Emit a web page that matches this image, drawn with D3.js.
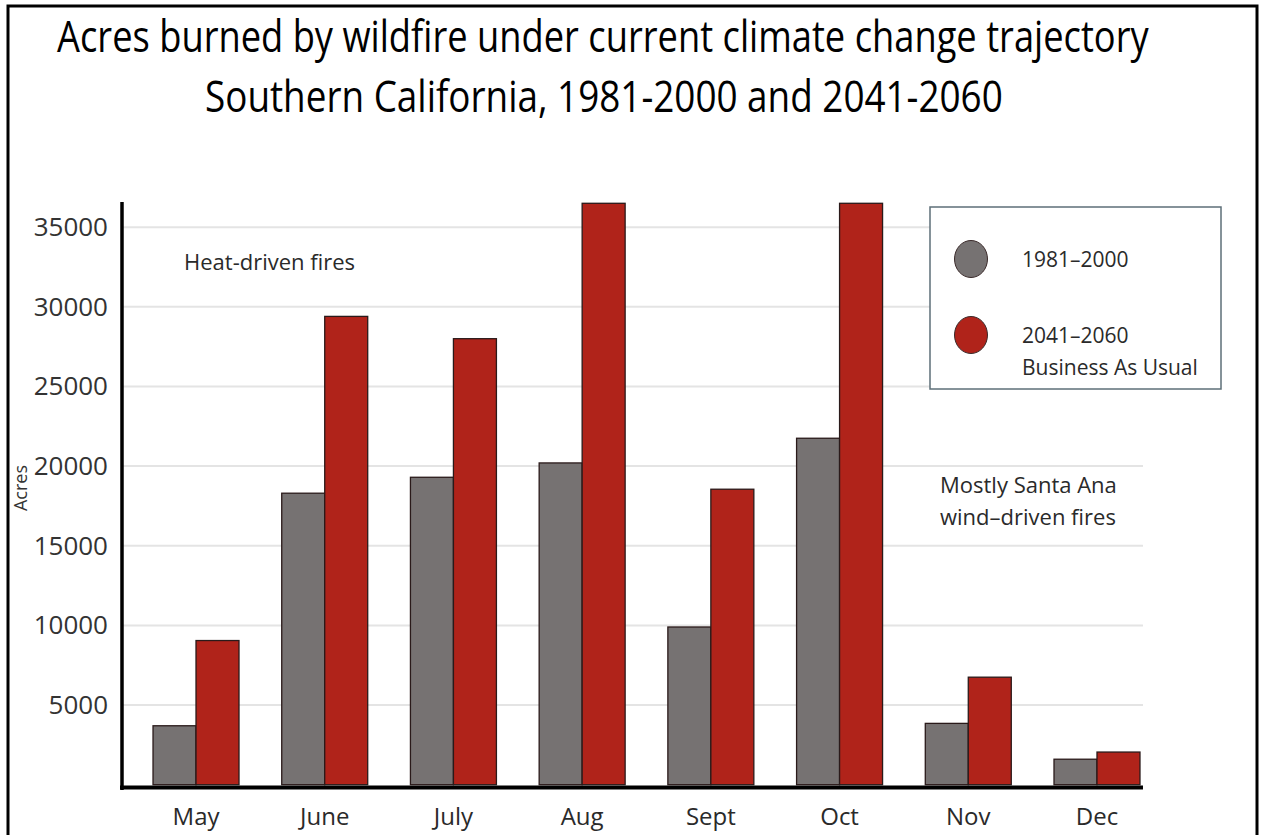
<!DOCTYPE html>
<html>
<head>
<meta charset="utf-8">
<script src="https://cdn.jsdelivr.net/npm/d3@7"></script>
<style>
    html, body { margin: 0; padding: 0; background: #fff; }
    svg { display: block; font-family: "Open Sans", "Noto Sans", sans-serif; }
</style>
</head>
<body>
<div id="chart"></div>
<script>
(function () {
    'use strict';

    // data
    var months = ['May', 'June', 'July', 'Aug', 'Sept', 'Oct', 'Nov', 'Dec'];
    var past = [3700, 18300, 19300, 20200, 9900, 21750, 3850, 1600];       // 1981-2000
    var future = [9050, 29400, 28000, 36500, 18550, 36500, 6750, 2050];    // 2041-2060 BAU
    var yTicks = [5000, 10000, 15000, 20000, 25000, 30000, 35000];
    var seriesKeys = ['past', 'future'];
    var seriesLabels = [['1981\u20132000'], ['2041\u20132060', 'Business As Usual']];
    var seriesColors = ['#767272', '#b0231a'];
    var titleLines = [
        'Acres burned by wildfire under current climate change trajectory',
        'Southern California, 1981-2000 and 2041-2060'
    ];

    var width = 1263;
    var height = 835;

    var rows = months.map(function (m, i) {
        return { month: m, past: past[i], future: future[i] };
    });

    var svg = d3.select('#chart').append('svg')
        .attr('width', width)
        .attr('height', height);

    var g = svg.append('g');

    var x = d3.scaleBand()
        .domain(months)
        .range([122, 1171])
        .paddingInner(0.332)
        .paddingOuter(0.241);

    var x1 = d3.scaleBand()
        .domain(seriesKeys)
        .range([0, x.bandwidth()]);

    var y = d3.scaleLinear()
        .domain([0, 36600])
        .range([784.7, 201.7]);

    var color = d3.scaleOrdinal().domain(seriesKeys).range(seriesColors);

    var axisRight = x(months[months.length - 1]) + x.bandwidth() + 3;

    // gridlines
    g.append('g').selectAll('line')
        .data(yTicks).enter()
        .append('line')
        .attr('x1', 122).attr('x2', axisRight)
        .attr('y1', function (d) { return y(d); })
        .attr('y2', function (d) { return y(d); })
        .attr('stroke', '#e4e4e4')
        .attr('stroke-width', 2);

    // y tick labels
    var yAxis = g.append('g')
        .attr('transform', 'translate(122,0)')
        .call(d3.axisLeft(y).tickValues(yTicks).tickSize(0).tickPadding(14).tickFormat(d3.format('d')));
    yAxis.select('.domain').remove();
    yAxis.selectAll('text')
        .attr('font-family', '"Open Sans", sans-serif')
        .attr('font-size', 26)
        .attr('fill', '#333');

    // bars
    g.append('g').selectAll('g')
        .data(rows).enter()
        .append('g')
        .attr('transform', function (d) { return 'translate(' + x(d.month) + ',0)'; })
        .selectAll('rect')
        .data(function (d) { return seriesKeys.map(function (k) { return { key: k, value: d[k] }; }); })
        .enter()
        .append('rect')
        .attr('x', function (d) { return x1(d.key); })
        .attr('width', x1.bandwidth())
        .attr('y', function (d) { return y(d.value); })
        .attr('height', function (d) { return y(0) - y(d.value); })
        .attr('fill', function (d) { return color(d.key); })
        .attr('stroke', '#2a1a1a')
        .attr('stroke-width', 1.3);

    // x labels
    var xAxis = g.append('g')
        .attr('transform', 'translate(0,' + 788 + ')')
        .call(d3.axisBottom(x).tickSize(0).tickPadding(20));
    xAxis.select('.domain').remove();
    xAxis.selectAll('text')
        .attr('font-family', '"Open Sans", sans-serif')
        .attr('font-size', 24)
        .attr('fill', '#2a2a2a');

    // axis lines
    g.append('line')
        .attr('x1', 122).attr('x2', 122)
        .attr('y1', 202).attr('y2', 790)
        .attr('stroke', '#000').attr('stroke-width', 3.5);
    g.append('line')
        .attr('x1', 120).attr('x2', axisRight)
        .attr('y1', 787.5).attr('y2', 787.5)
        .attr('stroke', '#000').attr('stroke-width', 4);

    // y axis title, tucked against the frame
    g.append('text')
        .attr('transform', 'translate(27,488) rotate(-90)')
        .attr('text-anchor', 'middle')
        .attr('font-size', 18)
        .attr('fill', '#333')
        .text('Acres');

    // annotations
    g.append('text')
        .attr('x', 184).attr('y', 270)
        .attr('font-size', 22)
        .attr('fill', '#2a2a2a')
        .text('Heat-driven fires');

    var ann = g.append('text')
        .attr('font-size', 22)
        .attr('fill', '#2a2a2a');
    ann.append('tspan').attr('x', 940).attr('y', 493).text('Mostly Santa Ana');
    ann.append('tspan').attr('x', 940).attr('y', 525).text('wind\u2013driven fires');

    // legend
    var legend = g.append('g');
    legend.append('rect')
        .attr('x', 930).attr('y', 207)
        .attr('width', 291).attr('height', 182)
        .attr('fill', '#fff')
        .attr('stroke', '#5d6f78')
        .attr('stroke-width', 1.5);

    var item = legend.selectAll('.legend')
        .data(seriesKeys).enter()
        .append('g')
        .attr('class', 'legend')
        .attr('transform', function (d, i) { return 'translate(971,' + (259 + i * 76) + ')'; });
    item.append('ellipse')
        .attr('rx', 16.5).attr('ry', 18.5)
        .attr('fill', color)
        .attr('stroke', '#3a2a2a')
        .attr('stroke-width', 1);
    item.append('text')
        .attr('font-size', 21)
        .attr('fill', '#2a2a2a')
        .selectAll('tspan')
        .data(function (d, i) { return seriesLabels[i]; }).enter()
        .append('tspan')
        .attr('x', 51)
        .attr('y', function (d, i) { return 8 + i * 32; })
        .text(function (d) { return d; });

    // title: squeeze horizontally to the narrow look of the original
    var titlePos = [{ x: 57, y: 52, w: 1092 }, { x: 205, y: 112, w: 798 }];
    titleLines.forEach(function (line, i) {
        var p = titlePos[i];
        var tg = svg.append('g');
        var t = tg.append('text')
            .attr('font-size', 44)
            .attr('fill', '#000')
            .text(line);
        var natural = t.node().getComputedTextLength();
        tg.attr('transform', 'translate(' + p.x + ',' + p.y + ') scale(' + (p.w / natural) + ',1)');
    });

    // frame
    svg.append('rect')
        .attr('x', 8).attr('y', 6)
        .attr('width', 1249).attr('height', 840)
        .attr('fill', 'none')
        .attr('stroke', '#000')
        .attr('stroke-width', 3);
})();
</script>
</body>
</html>
